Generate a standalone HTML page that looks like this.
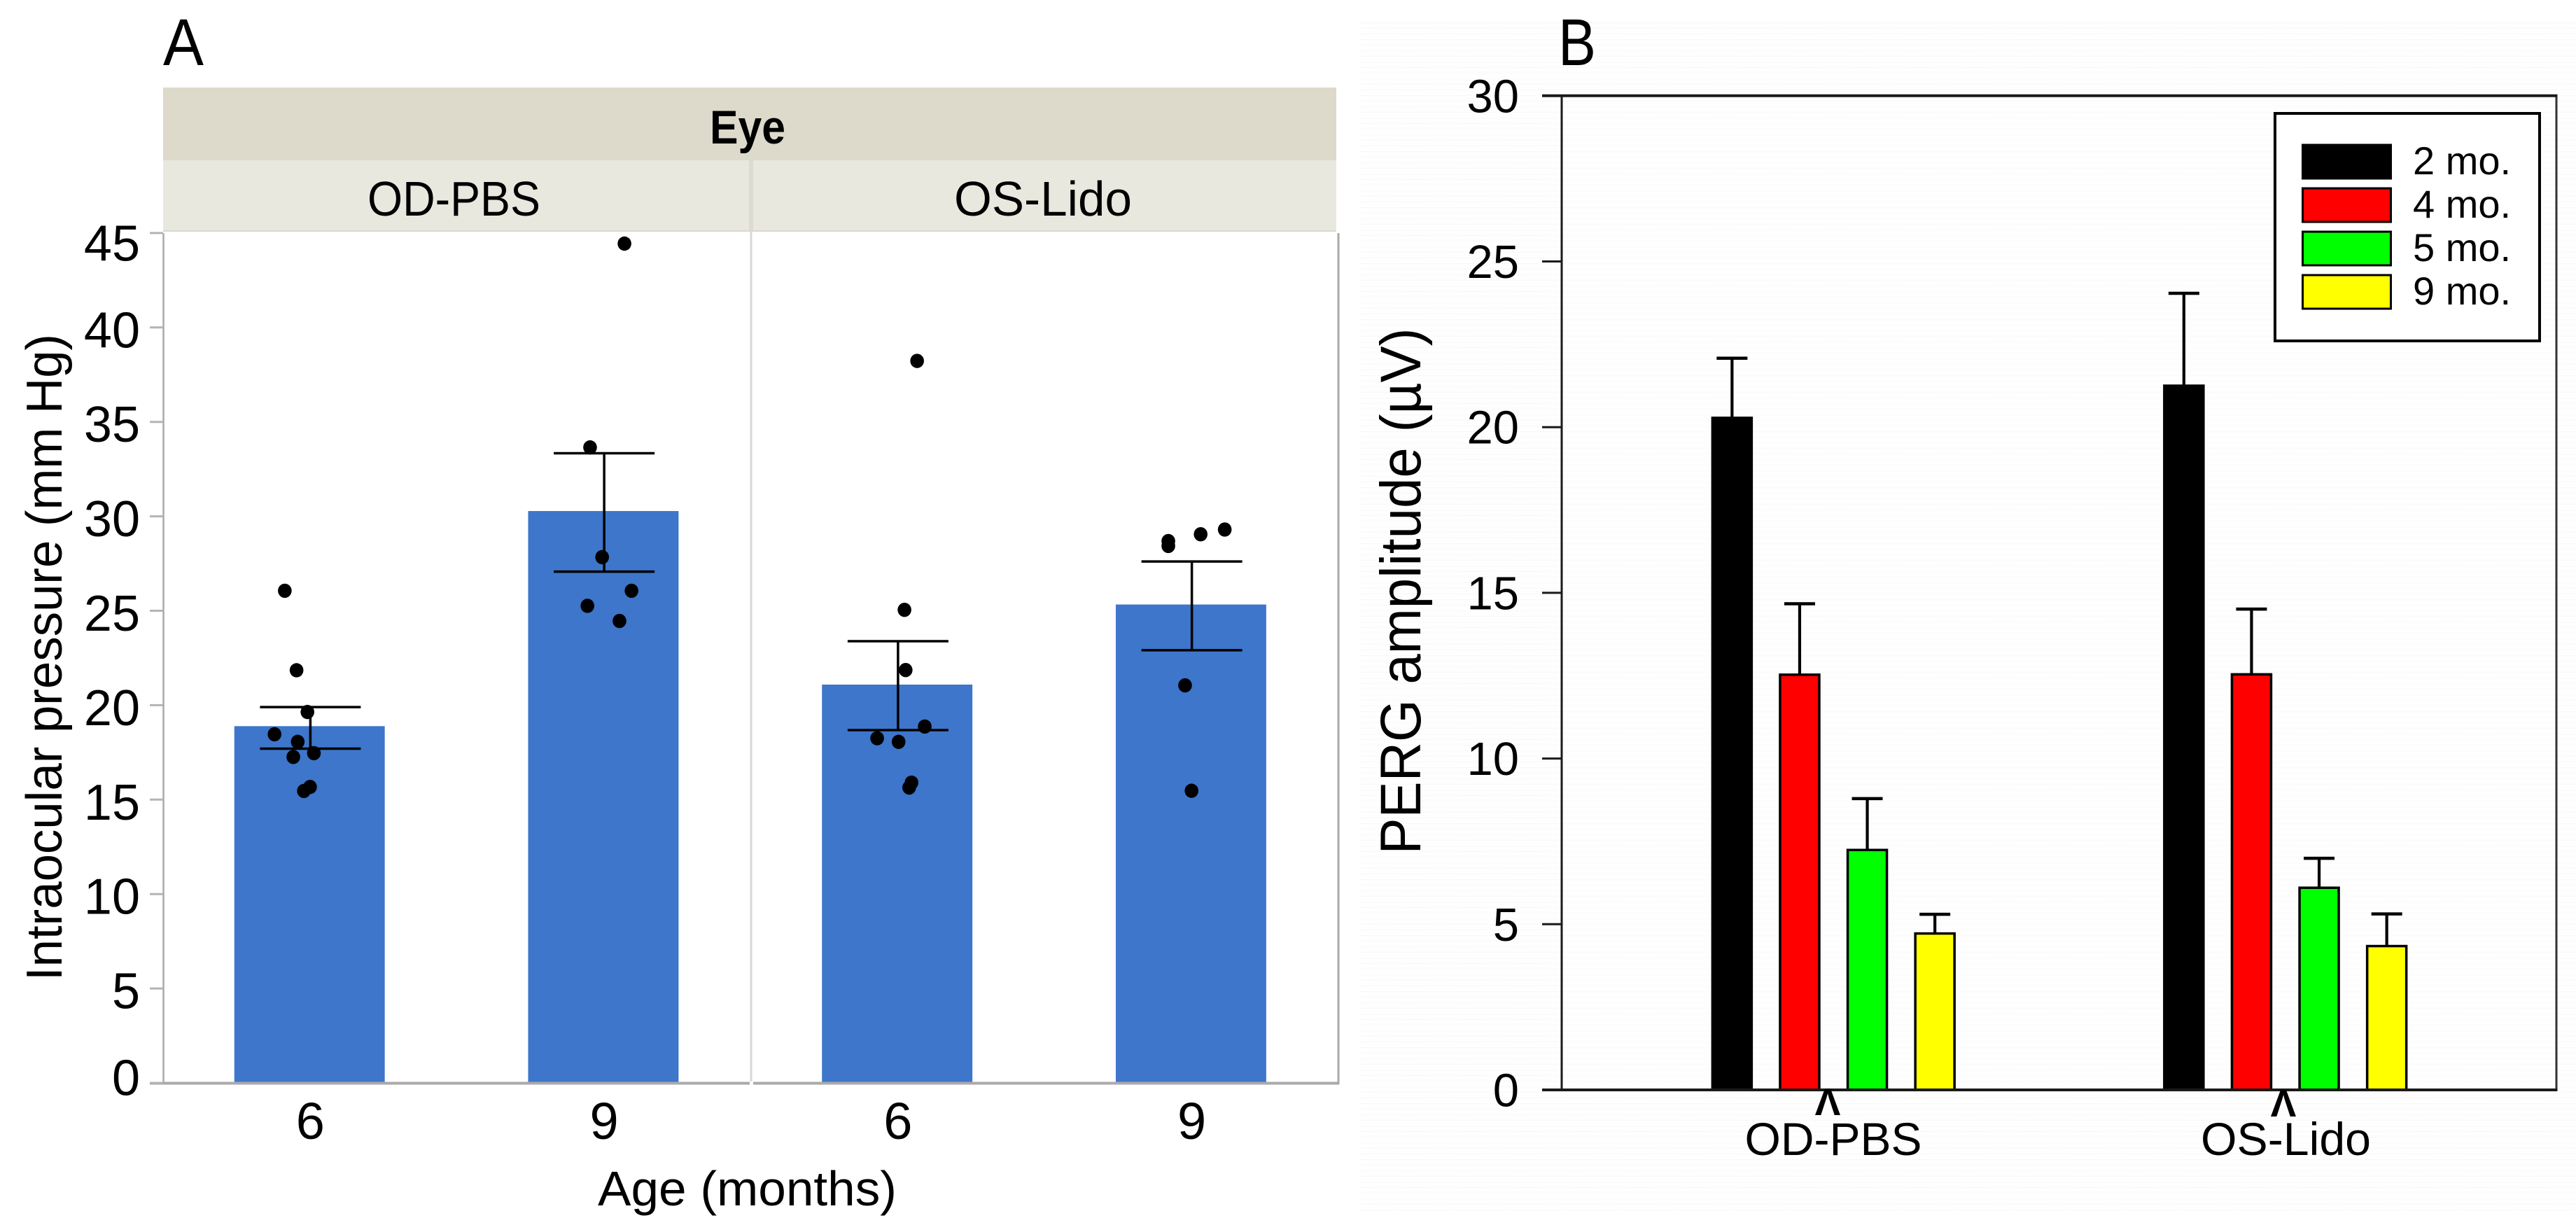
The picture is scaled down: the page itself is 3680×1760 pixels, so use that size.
<!DOCTYPE html>
<html lang="en">
<head>
<meta charset="utf-8">
<title>Intraocular pressure and PERG amplitude</title>
<style>
  html, body { margin: 0; padding: 0; background: #ffffff; }
  body { width: 3680px; height: 1760px; overflow: hidden; }
  svg { display: block; }
  text { font-family: "Liberation Sans", sans-serif; fill: #000; }
</style>
</head>
<body>
<svg id="figure" xmlns="http://www.w3.org/2000/svg" width="3680" height="1760" viewBox="0 0 3680 1760">
  <defs>
    <pattern id="scan-texture" width="4" height="8" patternUnits="userSpaceOnUse">
      <rect width="2" height="1" fill="#f3f3f3"></rect>
    </pattern>
  </defs>

  <rect x="1944" y="30" width="1736" height="1705" fill="#fefefe"></rect>
  <rect x="1944" y="30" width="1736" height="1705" fill="url(#scan-texture)"></rect>

  <!-- Panel A static parts -->
  <text x="233" y="93" font-size="95" textLength="58" lengthAdjust="spacingAndGlyphs">A</text>
  <rect x="233" y="125" width="1676" height="104" fill="#dddacb"></rect>
  <rect x="233" y="229" width="1676" height="101" fill="#e9e8df"></rect>
  <rect x="233" y="329" width="1676" height="2" fill="#d9d8cb"></rect>
  <rect x="1070" y="225" width="6" height="105" fill="#dcdbce"></rect>
  <text x="1068" y="205" font-size="68" font-weight="bold" text-anchor="middle" textLength="108" lengthAdjust="spacingAndGlyphs">Eye</text>
  <text x="648.5" y="308" font-size="70" text-anchor="middle" textLength="247" lengthAdjust="spacingAndGlyphs">OD-PBS</text>
  <text x="1490" y="308" font-size="70" text-anchor="middle" textLength="254" lengthAdjust="spacingAndGlyphs">OS-Lido</text>
  <text transform="translate(88 939) rotate(-90)" font-size="72" text-anchor="middle" textLength="924" lengthAdjust="spacingAndGlyphs">Intraocular pressure (mm Hg)</text>
  <text x="1067.5" y="1722" font-size="70" text-anchor="middle" textLength="427" lengthAdjust="spacingAndGlyphs">Age (months)</text>

  <g id="panel-a"></g>

  <!-- Panel B static parts -->
  <text x="2226" y="93" font-size="95" textLength="54" lengthAdjust="spacingAndGlyphs">B</text>
  <text transform="translate(2029 844.5) rotate(-90)" font-size="82" text-anchor="middle" textLength="752" lengthAdjust="spacingAndGlyphs">PERG amplitude (µV)</text>
  <g id="panel-b"></g>
  <text x="2619" y="1650" font-size="66" text-anchor="middle" textLength="253" lengthAdjust="spacingAndGlyphs">OD-PBS</text>
  <text x="3265.5" y="1650" font-size="66" text-anchor="middle" textLength="243" lengthAdjust="spacingAndGlyphs">OS-Lido</text>
  <text x="2611" y="1593" font-size="55" font-weight="bold" text-anchor="middle">Λ</text>
  <text x="3262" y="1595" font-size="55" font-weight="bold" text-anchor="middle">Λ</text>

  <g id="legend">
    <rect x="3250" y="162" width="378" height="325" fill="#ffffff" stroke="#000" stroke-width="4"></rect>
  </g>
</svg>

<script>
// ---------- Panel A data ----------
const ageCategories = ['6', '9', '6', '9'];
const iopTickLabels = [0, 5, 10, 15, 20, 25, 30, 35, 40, 45];
const iopMeans = [18.89, 30.28, 21.09, 25.33];
const iopErrUpper = [19.9, 33.34, 23.39, 27.61];
const iopErrLower = [17.7, 27.07, 18.68, 22.91];
const iopPointsOd6 = [26.06, 21.85, 19.64, 18.46, 18.06, 17.46, 17.26, 15.67, 15.46];
const iopPointsOd9 = [44.44, 33.65, 27.84, 26.06, 25.26, 24.46];
const iopPointsOs6 = [38.23, 25.05, 21.86, 18.87, 18.25, 18.06, 15.9, 15.64];
const iopPointsOs9 = [29.3, 29.05, 28.69, 28.43, 21.05, 15.47];
// horizontal jitter of each point, in category-band units
const iopJitterOd6 = [-0.087, -0.047, -0.010, -0.122, -0.043, 0.012, -0.058, -0.001, -0.022];
const iopJitterOd9 = [0.069, -0.048, -0.007, 0.093, -0.057, 0.052];
const iopJitterOs6 = [0.065, 0.022, 0.026, 0.091, -0.071, 0.002, 0.046, 0.038];
const iopJitterOs9 = [0.112, 0.030, -0.080, -0.080, -0.023, -0.001];

// ---------- Panel B data ----------
const eyeCategories = ['OD-PBS', 'OS-Lido'];
const ageSeries = ['2 mo.', '4 mo.', '5 mo.', '9 mo.'];
const seriesColors = ['#000000', '#ff0000', '#00ff00', '#ffff00'];
const pergTickLabels = [0, 5, 10, 15, 20, 25, 30];
const perg2mo = [20.28, 21.25];
const perg4mo = [12.53, 12.54];
const perg5mo = [7.24, 6.10];
const perg9mo = [4.72, 4.34];
const perg2moErr = [22.08, 24.04];
const perg4moErr = [14.67, 14.51];
const perg5moErr = [8.79, 6.99];
const perg9moErr = [5.30, 5.31];

const NS = 'http://www.w3.org/2000/svg';
function el(tag, attrs, parent) {
  const node = document.createElementNS(NS, tag);
  for (const k in attrs) node.setAttribute(k, attrs[k]);
  parent.appendChild(node);
  return node;
}

// ---------- Panel A axes ----------
const panelA = document.getElementById('panel-a');
const yA = v => 1547 - v * 26.98;
const bandA = 419.75;
const xA = i => 233.5 + (i + 0.5) * bandA;

const dividerA = el('line', {x1: 1073, x2: 1073, y1: 331, y2: 1545, stroke: '#d8d8d8', 'stroke-width': 3}, panelA);



// bars
iopMeans.forEach((m, i) => {
  const w = 0.512 * bandA;
  const bar = el('rect', {x: xA(i) - 1.2 - w / 2, y: yA(m), width: w, height: yA(0) - yA(m), fill: '#3d76ca'}, panelA);
  
  
});

// axes
const leftAxisA = el('line', {x1: 233.5, x2: 233.5, y1: 333, y2: 1547, stroke: '#aaaaaa', 'stroke-width': 2.5}, panelA);


const rightAxisA = el('line', {x1: 1912, x2: 1912, y1: 333, y2: 1549, stroke: '#aaaaaa', 'stroke-width': 3}, panelA);


const bottomAxisA1 = el('line', {x1: 214, x2: 1071, y1: 1547.5, y2: 1547.5, stroke: '#aaaaaa', 'stroke-width': 4}, panelA);


const bottomAxisA2 = el('line', {x1: 1076, x2: 1913, y1: 1547.5, y2: 1547.5, stroke: '#aaaaaa', 'stroke-width': 4}, panelA);



// y ticks and labels
iopTickLabels.forEach(v => {
  const tick = el('line', {x1: 214, x2: 233, y1: yA(v), y2: yA(v), stroke: '#b4b4b4', 'stroke-width': 3}, panelA);
  
  
  const shift = v === 45 ? 14 : v === 0 ? -8 : 3;
  const label = el('text', {x: 200, y: yA(v) + shift + 25.5, 'font-size': 72, 'text-anchor': 'end'}, panelA);
  label.textContent = String(v);
  
  
});

// x labels
ageCategories.forEach((c, i) => {
  const label = el('text', {x: xA(i), y: 1627, 'font-size': 74, 'text-anchor': 'middle'}, panelA);
  label.textContent = c;
  
  
});

// error bars
iopMeans.forEach((m, i) => {
  const stem = el('line', {x1: xA(i), x2: xA(i), y1: yA(iopErrUpper[i]), y2: yA(iopErrLower[i]), stroke: '#000', 'stroke-width': 3.5}, panelA);
  
  
  const capTop = el('line', {x1: xA(i) - 72, x2: xA(i) + 72, y1: yA(iopErrUpper[i]), y2: yA(iopErrUpper[i]), stroke: '#000', 'stroke-width': 3.5}, panelA);
  
  
  const capBottom = el('line', {x1: xA(i) - 72, x2: xA(i) + 72, y1: yA(iopErrLower[i]), y2: yA(iopErrLower[i]), stroke: '#000', 'stroke-width': 3.5}, panelA);
  
  
});

// raw points
[[iopPointsOd6, iopJitterOd6], [iopPointsOd9, iopJitterOd9], [iopPointsOs6, iopJitterOs6], [iopPointsOs9, iopJitterOs9]].forEach((pair, i) => {
  pair[0].forEach((v, k) => {
    const dot = el('ellipse', {cx: xA(i) + pair[1][k] * bandA, cy: yA(v), rx: 9.8, ry: 10.2, fill: '#000'}, panelA);
    
    
  });
});

// ---------- Panel B ----------
const panelB = document.getElementById('panel-b');
const yB = v => 1557 - v * 47.34;
const groupSpacing = 645.5;
const barSpacing = 96.6;
const xB = (g, s) => 2619.25 + g * groupSpacing + (s - 1.5) * barSpacing;
const pergValues = [perg2mo, perg4mo, perg5mo, perg9mo];
const pergErrors = [perg2moErr, perg4moErr, perg5moErr, perg9moErr];

const frameFill = el('rect', {x: 2231, y: 136.7, width: 1421, height: 1420.3, fill: '#ffffff', 'fill-opacity': 0.35}, panelB);



eyeCategories.forEach((c, g) => {
  ageSeries.forEach((s, k) => {
    const cx = xB(g, k);
    const stem = el('line', {x1: cx, x2: cx, y1: yB(pergValues[k][g]), y2: yB(pergErrors[k][g]), stroke: '#000', 'stroke-width': 4.2}, panelB);
    
    
    const cap = el('line', {x1: cx - 22, x2: cx + 22, y1: yB(pergErrors[k][g]), y2: yB(pergErrors[k][g]), stroke: '#000', 'stroke-width': 4.5}, panelB);
    
    
    const bar = el('rect', {x: cx - 28, y: yB(pergValues[k][g]), width: 56, height: yB(0) - yB(pergValues[k][g]), fill: seriesColors[k], stroke: '#000', 'stroke-width': 3.5}, panelB);
    
    
  });
});

const frameLeft = el('line', {x1: 2231, x2: 2231, y1: 136.7, y2: 1557, stroke: '#1a1a1a', 'stroke-width': 3}, panelB);


const frameRight = el('line', {x1: 3652, x2: 3652, y1: 136.7, y2: 1559, stroke: '#333333', 'stroke-width': 3}, panelB);


const frameTop = el('line', {x1: 2203, x2: 3653.5, y1: 136.7, y2: 136.7, stroke: '#1a1a1a', 'stroke-width': 4}, panelB);


const frameBottom = el('line', {x1: 2203, x2: 3653.5, y1: 1557, y2: 1557, stroke: '#1a1a1a', 'stroke-width': 4}, panelB);



pergTickLabels.forEach(v => {
  const tick = el('line', {x1: 2203, x2: 2231, y1: yB(v), y2: yB(v), stroke: '#1a1a1a', 'stroke-width': 3}, panelB);
  
  
  const label = el('text', {x: 2170, y: yB(v) + 23.5, 'font-size': 67, 'text-anchor': 'end'}, panelB);
  label.textContent = String(v);
  
  
});

// ---------- Legend ----------
const legend = document.getElementById('legend');
const legendRowHeight = 62;
ageSeries.forEach((s, k) => {
  const top = 207 + k * legendRowHeight;
  const swatch = el('rect', {x: 3289.5, y: top, width: 126, height: 48, fill: seriesColors[k], stroke: '#000', 'stroke-width': 3}, legend);
  
  
  const label = el('text', {x: 3447, y: top + 42, 'font-size': 56}, legend);
  label.textContent = s;
  
  
});
</script>
</body>
</html>
